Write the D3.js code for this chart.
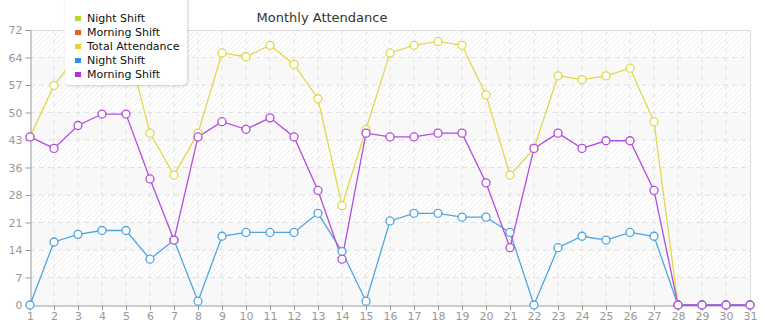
<!DOCTYPE html>
<html>
<head>
<meta charset="utf-8" />
<title>Monthly Attendance</title>
<script src="https://d3js.org/d3.v7.min.js"></script>
<style>
  body { margin: 0; background: #fff; }
  svg text { font-family: "DejaVu Sans", Verdana, sans-serif; }
</style>
</head>
<body>
<div id="chart"></div>
<script>
// days of the month
var days = d3.range(1, 32);

// series values
var nightShift = [0, 16.5, 18.5, 19.5, 19.5, 12, 17, 1, 18, 19, 19, 19, 24, 14, 1, 22, 24, 24, 23, 23, 19, 0, 15, 18, 17, 19, 18, 0, 0, 0, 0];
var morningShift = [44, 41, 47, 50, 50, 33, 17, 44, 48, 46, 49, 44, 30, 12, 45, 44, 44, 45, 45, 32, 15, 41, 45, 41, 43, 43, 30, 0, 0, 0, 0];
var totalAttendance = [44, 57.5, 65.5, 69.5, 69.5, 45, 34, 45, 66, 65, 68, 63, 54, 26, 46, 66, 68, 69, 68, 55, 34, 41, 60, 59, 60, 62, 48, 0, 0, 0, 0];

var yTicks = [0, 7.2, 14.4, 21.6, 28.8, 36, 43.2, 50.4, 57.6, 64.8, 72];

var legendNames = ["Night Shift", "Morning Shift", "Total Attendance", "Night Shift", "Morning Shift"];
var legendColors = ["#b5d930", "#e0622e", "#e2d432", "#3192e0", "#b132e0"];

var W = 765, H = 320;
var margin = {top: 30, right: 15, bottom: 15, left: 30};

var svg = d3.select("#chart").append("svg")
  .attr("width", W)
  .attr("height", H);

var x = d3.scaleLinear().domain([1, 31]).range([margin.left, W - margin.right]);
var y = d3.scaleLinear().domain([0, 72]).range([H - margin.bottom, margin.top]);

// hatch pattern for the plot background
var defs = svg.append("defs");
var pat = defs.append("pattern")
  .attr("id", "hatch")
  .attr("patternUnits", "userSpaceOnUse")
  .attr("width", 5).attr("height", 5);
pat.append("rect").attr("width", 5).attr("height", 5).attr("fill", "#fff");
pat.append("path")
  .attr("d", "M-1,1 l2,-2 M0,5 l5,-5 M4,6 l2,-2")
  .attr("stroke", "#ececec")
  .attr("stroke-width", 1);

svg.append("rect")
  .attr("x", x(1)).attr("y", y(72))
  .attr("width", x(31) - x(1)).attr("height", y(0) - y(72))
  .attr("fill", "url(#hatch)");

// alternating light bands
for (var i = 0; i < yTicks.length - 1; i += 2) {
  svg.append("rect")
    .attr("x", x(1)).attr("y", y(yTicks[i + 1]))
    .attr("width", x(31) - x(1)).attr("height", y(yTicks[i]) - y(yTicks[i + 1]))
    .attr("fill", "#f8f8f8")
    .attr("opacity", 0.85);
}

// grid lines
svg.append("g").selectAll("line.vg")
  .data(days.slice(1, 30))
  .enter().append("line")
  .attr("x1", function(d) { return x(d); })
  .attr("x2", function(d) { return x(d); })
  .attr("y1", y(72)).attr("y2", y(0))
  .attr("stroke", "#e2e2e2")
  .attr("stroke-dasharray", "5,4");

svg.append("g").selectAll("line.hg")
  .data(yTicks.slice(1, 10))
  .enter().append("line")
  .attr("x1", x(1)).attr("x2", x(31))
  .attr("y1", function(d) { return y(d); })
  .attr("y2", function(d) { return y(d); })
  .attr("stroke", "#e2e2e2")
  .attr("stroke-dasharray", "5,4");

// top / right border
svg.append("path")
  .attr("d", "M" + x(1) + "," + (y(72) + 0.5) + "H" + (x(31) + 0.5) + "V" + y(0))
  .attr("fill", "none")
  .attr("stroke", "#dcdcdc");

// axes
var yAxis = svg.append("g")
  .attr("transform", "translate(" + (x(1) + 0.5) + ",0)")
  .call(d3.axisLeft(y).tickValues(yTicks).tickSize(5).tickPadding(3)
    .tickFormat(function(d) { return Math.floor(d + 1e-9); }));
var xAxis = svg.append("g")
  .attr("transform", "translate(0," + (y(0) + 0.5) + ")")
  .call(d3.axisBottom(x).tickValues(days).tickSize(5).tickPadding(2)
    .tickFormat(d3.format("d")));

[xAxis, yAxis].forEach(function(a) {
  a.select(".domain").attr("stroke", "#999");
  a.selectAll(".tick line").attr("stroke", "#999");
  a.selectAll(".tick text")
    .attr("fill", "#999")
    .style("font-size", "11px")
    .style("font-family", "'DejaVu Sans', Verdana, sans-serif");
});

// lines
var series = [
  {values: totalAttendance, color: "#e2d84a"},
  {values: nightShift, color: "#4ea5e0"},
  {values: morningShift, color: "#b44be2"}
];

var line = d3.line()
  .x(function(d, i) { return x(days[i]); })
  .y(function(d) { return y(d); });

series.forEach(function(s) {
  svg.append("path")
    .datum(s.values)
    .attr("d", line)
    .attr("fill", "none")
    .attr("stroke", s.color)
    .attr("stroke-width", 1.3);
});
series.forEach(function(s) {
  svg.append("g").selectAll("circle")
    .data(s.values)
    .enter().append("circle")
    .attr("cx", function(d, i) { return x(days[i]); })
    .attr("cy", function(d) { return y(d); })
    .attr("r", 4)
    .attr("fill", "#fff")
    .attr("stroke", s.color)
    .attr("stroke-width", 1.3);
});

// title
svg.append("text")
  .attr("x", 322).attr("y", 22)
  .attr("text-anchor", "middle")
  .attr("fill", "#333")
  .style("font-size", "13px")
  .text("Monthly Attendance");

// legend
defs.append("filter").attr("id", "shadow")
  .append("feDropShadow")
  .attr("dx", 1).attr("dy", 1).attr("stdDeviation", 1.5)
  .attr("flood-color", "#000").attr("flood-opacity", 0.18);

var legend = svg.append("g").attr("transform", "translate(65,0)");
legend.append("rect")
  .attr("x", 0).attr("y", -6)
  .attr("width", 122).attr("height", 91)
  .attr("rx", 5)
  .attr("fill", "#fff")
  .attr("filter", "url(#shadow)");

var items = legend.selectAll(".legend-item")
  .data(legendNames)
  .enter().append("g")
  .attr("class", "legend-item")
  .attr("transform", function(d, i) { return "translate(0," + (22 + i * 14) + ")"; });

items.append("rect")
  .attr("x", 10).attr("y", -6)
  .attr("width", 6).attr("height", 5)
  .attr("fill", function(d, i) { return legendColors[i]; });

items.append("text")
  .attr("x", 22).attr("y", 0)
  .attr("fill", "#111")
  .style("font-size", "11px")
  .text(function(d) { return d; });
</script>
</body>
</html>
